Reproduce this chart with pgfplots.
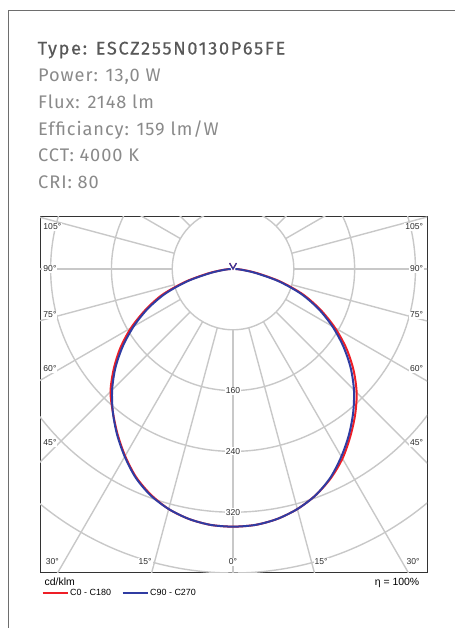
\documentclass[border=0pt]{standalone}
\usepackage{fontspec}
\setmainfont{Fira Sans}[LetterSpace=5]
\newfontfamily\chartfont{Liberation Sans}
\usepackage{pgfplots}
\usepackage{pgfplotstable}
\pgfplotsset{compat=1.18}
\definecolor{gridc}{RGB}{200,200,200}
\definecolor{cred}{RGB}{238,30,38}
\definecolor{cblue}{RGB}{48,60,162}
\definecolor{titc}{RGB}{88,88,88}
\definecolor{txtc}{RGB}{138,138,138}
\definecolor{framec}{RGB}{110,110,110}
\definecolor{labc}{RGB}{45,45,45}

% C0 - C180 : negative g = C180 side, positive g = C0 side (cd/klm)
\pgfplotstableread{
g I
-90 4
-85 13
-80 33
-75 65
-70 99
-65 127
-60 155
-55 181
-50 205
-45 228
-40 246
-35 265
-30 284
-25 302
-20 316
-15 327
-10 334
-5 338
0 339
5 338
10 334
15 327
20 317
25 304
30 288
35 269
40 250
45 230
50 207
55 182
60 155
65 127
70 98
75 65
80 33
85 13
90 4
}\redtab

% C90 - C270
\pgfplotstableread{
g I
-90 3
-85 11
-80 30
-75 62
-70 95
-65 124
-60 151
-55 177
-50 202
-45 225
-40 246
-35 266
-30 285
-25 303
-20 317
-15 327
-10 334
-5 338
0 339
5 338
10 334
15 327
20 317
25 303
30 285
35 266
40 246
45 225
50 202
55 177
60 151
65 124
70 95
75 62
80 30
85 11
90 3
}\bluetab

% small backward lobes (cd/klm)
\pgfplotstableread{
g I
-100 0
-150 9
-180 0
150 9
100 0
}\backtab

\begin{document}
\begin{tikzpicture}
\useasboundingbox (0bp,0bp) rectangle (455bp,-628bp);
\draw[framec, line width=1bp] (8bp,-628bp) -- (8bp,-10bp) -- (455bp,-10bp);

\begin{scope}[every node/.style={anchor=base west, inner sep=0pt}]
\node[text=titc, font={\addfontfeatures{FakeBold=0.35,LetterSpace=9}\fontsize{18.3}{21}\selectfont}] at (37.5bp,-54.5bp) {Type: ESCZ255N0130P65FE};
\node[text=txtc, font=\fontsize{18.3}{21}\selectfont] at (38bp,-81.5bp) {Power: 13,0 W};
\node[text=txtc, font=\fontsize{18.3}{21}\selectfont] at (38bp,-108.3bp) {Flux: 2148 lm};
\node[text=txtc, font=\fontsize{18.3}{21}\selectfont] at (38bp,-135bp) {Efficiancy: 159 lm/W};
\node[text=txtc, font=\fontsize{18.3}{21}\selectfont] at (38bp,-161.7bp) {CCT: 4000 K};
\node[text=txtc, font=\fontsize{18.3}{21}\selectfont] at (38bp,-188.4bp) {CRI: 80};
\end{scope}

\begin{axis}[
  at={(40bp,-572bp)}, anchor=south west,
  x=0.76bp, y=0.76bp,
  xmin=-254, xmax=255.3, ymin=-398.7, ymax=69.7,
  xtick=\empty, ytick=\empty,
  axis line style={draw=black!80, line width=1bp},
  legend style={at={(0.004,-0.058)}, anchor=west, draw=none, fill=none,
    inner sep=0pt, font={\chartfont\fontsize{9}{10.5}\selectfont},
    legend columns=2, nodes={inner sep=1.5bp},
    /tikz/every even column/.append style={column sep=9bp}},
  legend image code/.code={\draw[#1, line width=2bp] (0bp,0bp) -- (25bp,0bp);},
]
\pgfplotsinvokeforeach{80,160,240,320,400,480}{
  \draw[gridc, line width=1.4bp] (axis cs:0,0) circle[radius=#1];
}
\pgfplotsinvokeforeach{0,15,...,345}{
  \draw[gridc, line width=1.4bp] (axis cs:{80*sin(#1)},{-80*cos(#1)}) -- (axis cs:{560*sin(#1)},{-560*cos(#1)});
}
\begin{scope}[every node/.style={fill=white, inner sep=1bp, text=labc, font={\chartfont\fontsize{8.6}{10}\selectfont}}]
\node at (axis cs:0,-160) {160};
\node at (axis cs:0,-240) {240};
\node at (axis cs:0,-320) {320};
\node[anchor=west] at (axis cs:-251,55.3) {105°};
\node[anchor=west] at (axis cs:-251,0) {90°};
\node[anchor=west] at (axis cs:-251,-60.5) {75°};
\node[anchor=west] at (axis cs:-251,-131.6) {60°};
\node[anchor=west] at (axis cs:-251,-229) {45°};
\node[anchor=east] at (axis cs:251.5,55.3) {105°};
\node[anchor=east] at (axis cs:251.5,0) {90°};
\node[anchor=east] at (axis cs:251.5,-60.5) {75°};
\node[anchor=east] at (axis cs:251.5,-131.6) {60°};
\node[anchor=east] at (axis cs:251.5,-229) {45°};
\node[anchor=west] at (axis cs:-248,-385.5) {30°};
\node at (axis cs:-115.8,-385.5) {15°};
\node at (axis cs:0,-385.5) {0°};
\node at (axis cs:115.8,-385.5) {15°};
\node[anchor=east] at (axis cs:247,-385.5) {30°};
\end{scope}
\addplot[cred, line width=2bp, no marks, smooth, line join=round] table[x expr={\thisrow{I}*sin(\thisrow{g})}, y expr={-\thisrow{I}*cos(\thisrow{g})}] \redtab;
\addlegendentry{C0 - C180}
\addplot[cred, line width=1.2bp, no marks, forget plot] table[x expr={\thisrow{I}*sin(\thisrow{g})}, y expr={-\thisrow{I}*cos(\thisrow{g})}] \backtab;
\addplot[cblue, line width=2bp, no marks, smooth, line join=round] table[x expr={\thisrow{I}*sin(\thisrow{g})}, y expr={-\thisrow{I}*cos(\thisrow{g})}] \bluetab;
\addlegendentry{C90 - C270}
\addplot[cblue, line width=1.2bp, no marks, forget plot] table[x expr={\thisrow{I}*sin(\thisrow{g})}, y expr={-\thisrow{I}*cos(\thisrow{g})}] \backtab;
\end{axis}

\node[anchor=base west, inner sep=0pt, font={\chartfont\fontsize{10.5}{12}\selectfont}] at (44.5bp,-585.5bp) {cd/klm};
\node[anchor=base east, inner sep=0pt, font={\chartfont\fontsize{10.5}{12}\selectfont}] at (419.5bp,-585.5bp) {η = 100\%};
\end{tikzpicture}
\end{document}
